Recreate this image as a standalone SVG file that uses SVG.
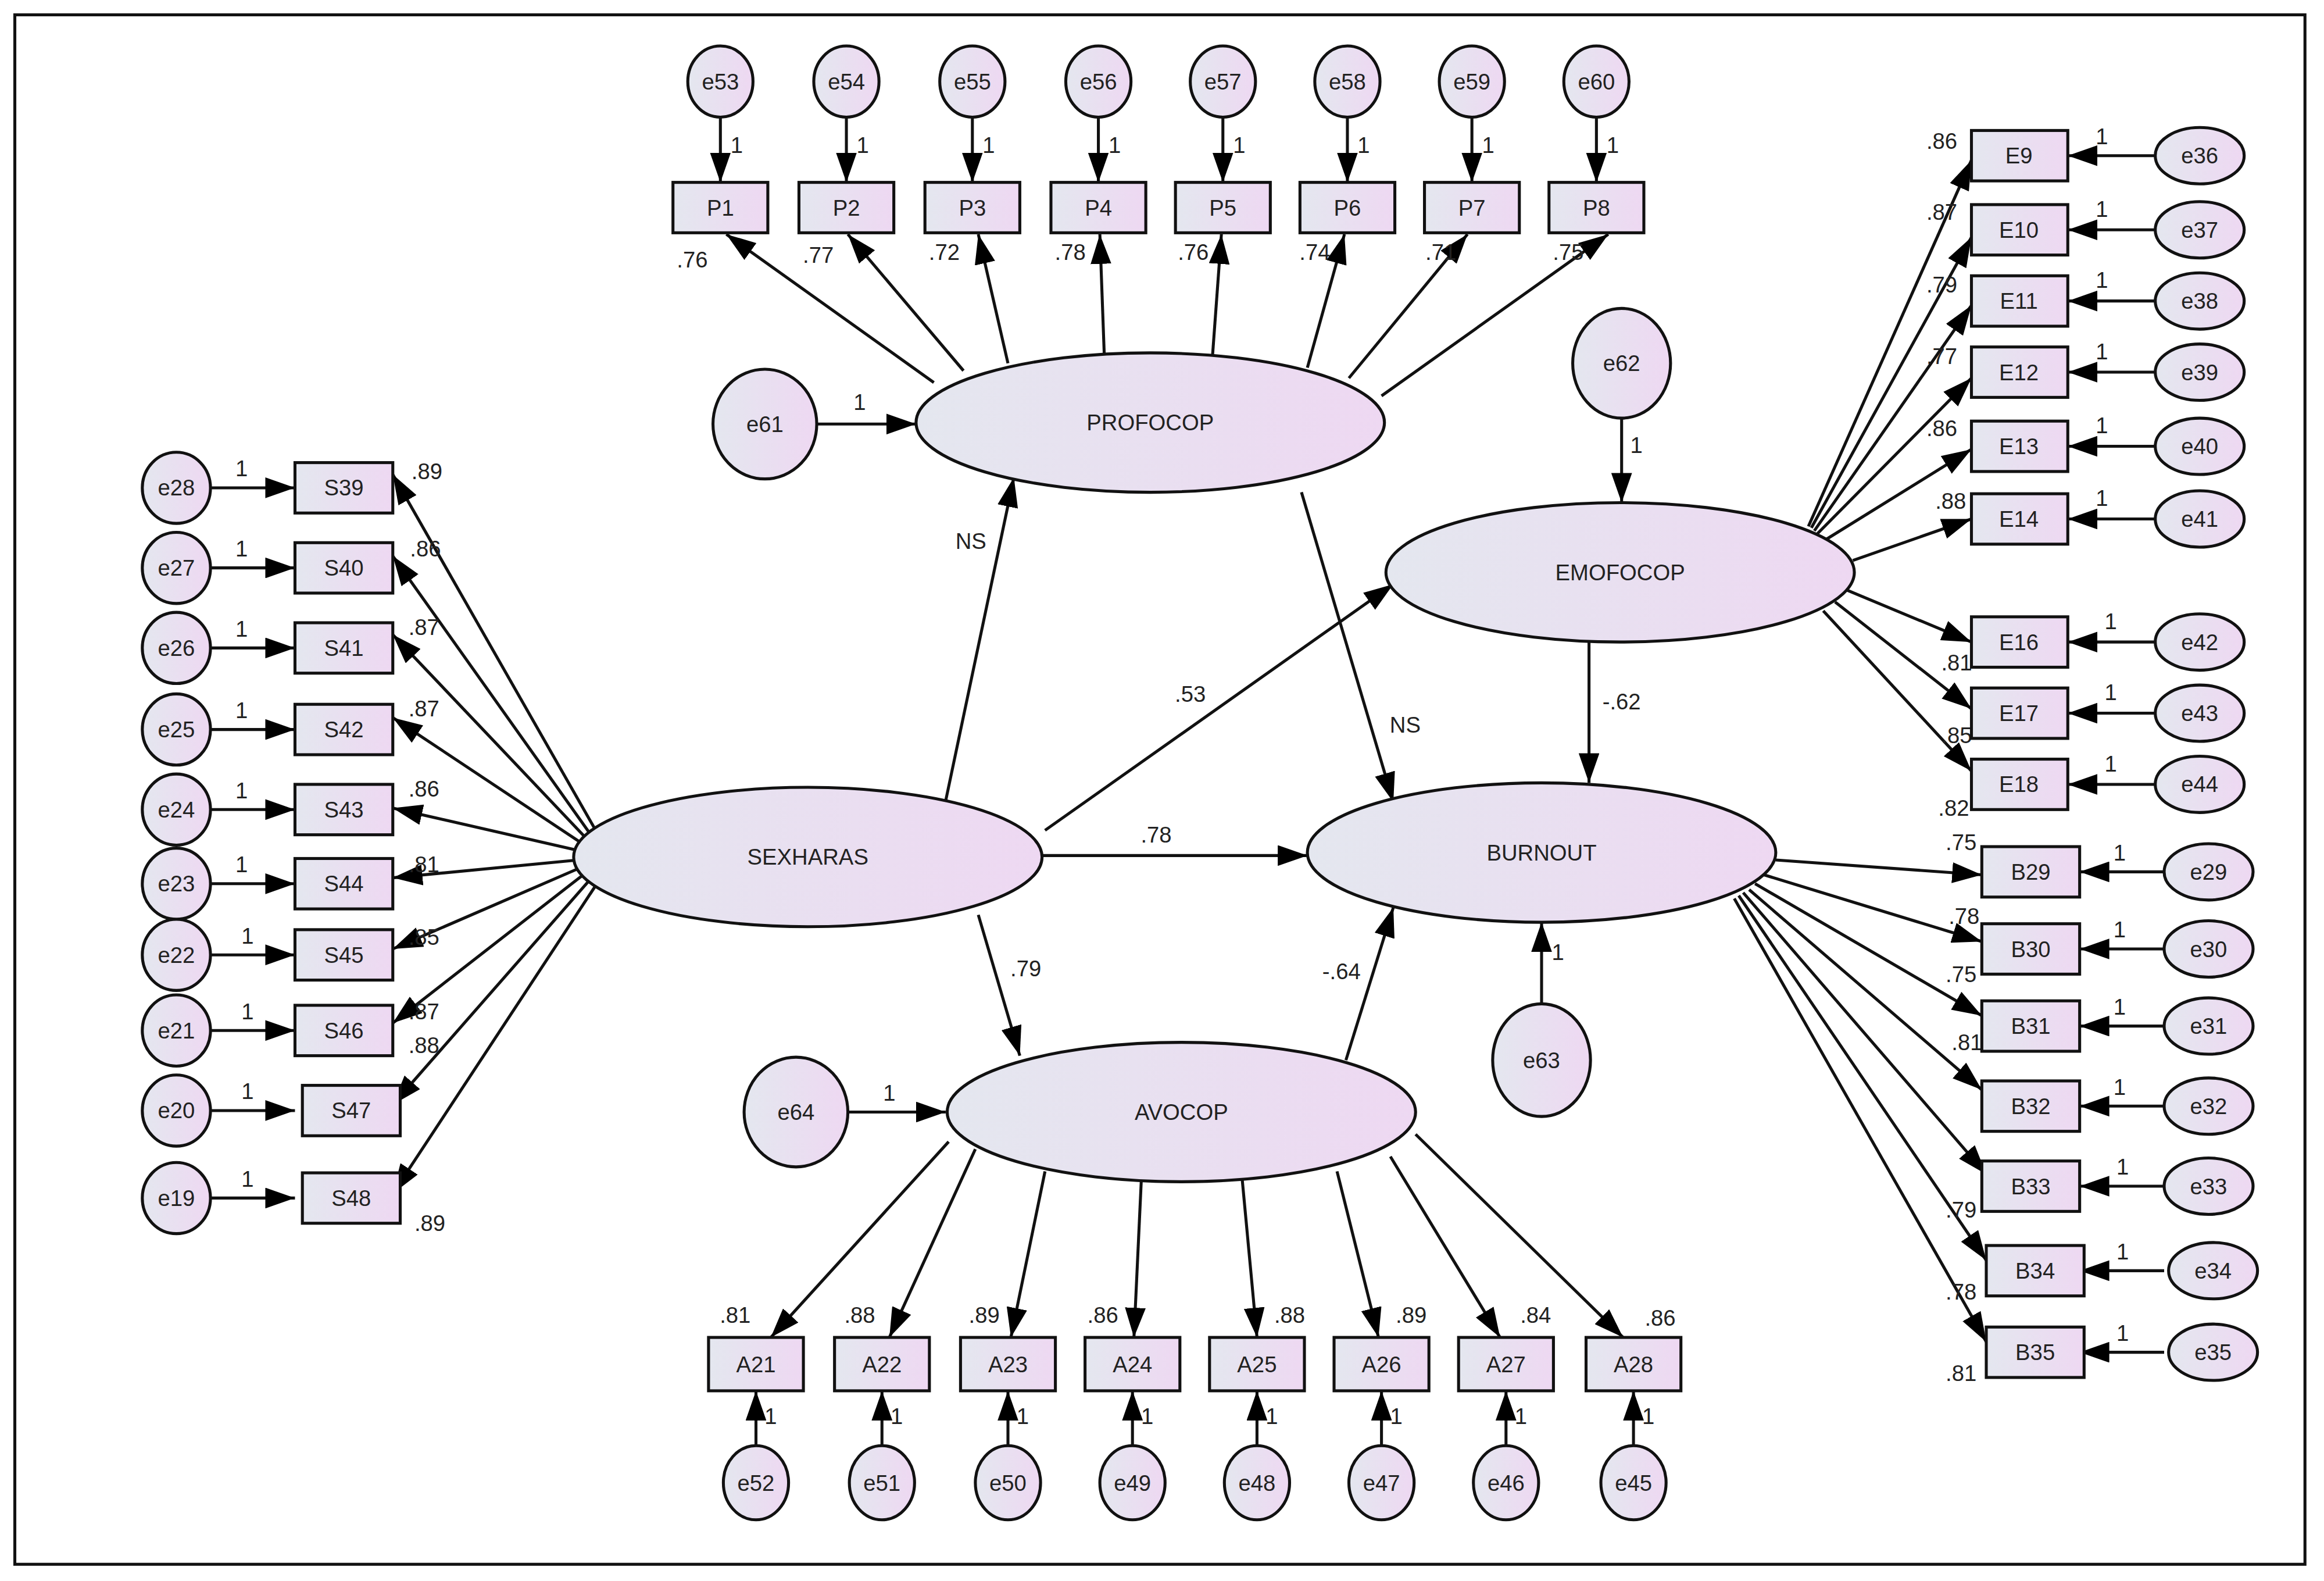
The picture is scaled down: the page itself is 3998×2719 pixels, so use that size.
<svg xmlns="http://www.w3.org/2000/svg" width="3998" height="2719" viewBox="0 0 3998 2719">
<style>
.n{fill:url(#g);stroke:#111;stroke-width:2}
.c{stroke:#111;stroke-width:2;fill:none;marker-end:url(#a)}
text{font-family:"Liberation Sans",Arial,sans-serif;font-size:15px;fill:#222}
.m{text-anchor:middle;dominant-baseline:central}
</style>
<defs>
<linearGradient id="g" x1="0" y1="0" x2="1" y2="0"><stop offset="0" stop-color="#e4e7ef"/><stop offset="1" stop-color="#eed8f2"/></linearGradient>
<marker id="a" viewBox="0 0 10 7" refX="10" refY="3.5" markerWidth="10" markerHeight="7" orient="auto"><path d="M0,0L10,3.5L0,7z" fill="#000"/></marker>
</defs>
<rect width="3998" height="2719" fill="#fff"/>
<g transform="scale(2.55)">
<rect x="10" y="10" width="1545" height="1045" fill="none" stroke="#111" stroke-width="2"/>
<g id="connectors">
<!-- P -->
<path class="c" d="M486,79V123"/><path class="c" d="M571,79V123"/><path class="c" d="M656,79V123"/><path class="c" d="M741,79V123"/>
<path class="c" d="M825,79V123"/><path class="c" d="M909,79V123"/><path class="c" d="M993,79V123"/><path class="c" d="M1077,79V123"/>
<path class="c" d="M630,258L490,158"/><path class="c" d="M650,250L572,158"/><path class="c" d="M680,245L660,158"/><path class="c" d="M745,240L742,158"/>
<path class="c" d="M818,240L824,158"/><path class="c" d="M882,248L907,158"/><path class="c" d="M910,255L990,158"/><path class="c" d="M932,267L1085,158"/>
<!-- S -->
<path class="c" d="M142,329H199"/><path class="c" d="M142,383H199"/><path class="c" d="M142,437H199"/><path class="c" d="M142,492H199"/><path class="c" d="M142,546H199"/>
<path class="c" d="M142,596H199"/><path class="c" d="M142,644H199"/><path class="c" d="M142,695H199"/><path class="c" d="M142,749H199"/><path class="c" d="M142,808H199"/>
<path class="c" d="M403,562L265,320"/><path class="c" d="M400,565L265,375"/><path class="c" d="M398,568L265,428"/><path class="c" d="M396,571L265,484"/><path class="c" d="M392,574L265,545"/>
<path class="c" d="M390,580L265,592"/><path class="c" d="M392,585L265,640"/><path class="c" d="M396,588L265,690"/><path class="c" d="M400,591L265,745"/><path class="c" d="M404,594L265,805"/>
<!-- A -->
<path class="c" d="M510,975V938"/><path class="c" d="M595,975V938"/><path class="c" d="M680,975V938"/><path class="c" d="M764,975V938"/>
<path class="c" d="M848,975V938"/><path class="c" d="M932,975V938"/><path class="c" d="M1016,975V938"/><path class="c" d="M1102,975V938"/>
<path class="c" d="M640,770L520,902"/><path class="c" d="M658,775L600,902"/><path class="c" d="M705,790L682,902"/><path class="c" d="M770,795L765,902"/>
<path class="c" d="M838,795L848,902"/><path class="c" d="M902,790L930,902"/><path class="c" d="M938,780L1012,902"/><path class="c" d="M955,765L1095,902"/>
<!-- E -->
<path class="c" d="M1454,105H1395"/><path class="c" d="M1454,155H1395"/><path class="c" d="M1454,203H1395"/><path class="c" d="M1454,251H1395"/><path class="c" d="M1454,301H1395"/>
<path class="c" d="M1454,350H1395"/><path class="c" d="M1454,433H1395"/><path class="c" d="M1454,481H1395"/><path class="c" d="M1454,529H1395"/>
<path class="c" d="M1220,355L1330,108"/><path class="c" d="M1222,356L1330,160"/><path class="c" d="M1224,358L1330,206"/><path class="c" d="M1226,360L1330,255"/><path class="c" d="M1230,365L1330,303"/>
<path class="c" d="M1250,378L1330,350"/><path class="c" d="M1246,398L1330,433"/><path class="c" d="M1238,406L1330,478"/><path class="c" d="M1230,412L1330,520"/>
<!-- B -->
<path class="c" d="M1460,588H1403"/><path class="c" d="M1460,640H1403"/><path class="c" d="M1460,692H1403"/><path class="c" d="M1460,746H1403"/>
<path class="c" d="M1460,800H1403"/><path class="c" d="M1460,857H1403"/><path class="c" d="M1460,912H1403"/>
<path class="c" d="M1198,580L1337,590"/><path class="c" d="M1190,590L1337,635"/><path class="c" d="M1184,596L1337,685"/><path class="c" d="M1180,600L1337,735"/>
<path class="c" d="M1176,602L1340,792"/><path class="c" d="M1173,604L1340,850"/><path class="c" d="M1170,606L1340,905"/>
<!-- structural -->
<path class="c" d="M551,286H618"/>
<path class="c" d="M638,540L684,322"/>
<path class="c" d="M705,560L940,394"/>
<path class="c" d="M703,577H882"/>
<path class="c" d="M660,617L688,712"/>
<path class="c" d="M878,332L940,541"/>
<path class="c" d="M1072,433V528"/>
<path class="c" d="M1094,282V339"/>
<path class="c" d="M1040,677V622"/>
<path class="c" d="M908,715L940,612"/>
<path class="c" d="M572,750H638"/>
</g>
<g id="labels">
<text x="497" y="98" class="m">1</text><text x="582" y="98" class="m">1</text><text x="667" y="98" class="m">1</text><text x="752" y="98" class="m">1</text>
<text x="836" y="98" class="m">1</text><text x="920" y="98" class="m">1</text><text x="1004" y="98" class="m">1</text><text x="1088" y="98" class="m">1</text>
<text x="467" y="175" class="m">.76</text><text x="552" y="172" class="m">.77</text><text x="637" y="170" class="m">.72</text><text x="722" y="170" class="m">.78</text>
<text x="805" y="170" class="m">.76</text><text x="887" y="170" class="m">.74</text><text x="972" y="170" class="m">.71</text><text x="1058" y="170" class="m">.75</text>
<text x="163" y="316" class="m">1</text><text x="163" y="370" class="m">1</text><text x="163" y="424" class="m">1</text><text x="163" y="479" class="m">1</text><text x="163" y="533" class="m">1</text>
<text x="163" y="583" class="m">1</text><text x="167" y="631" class="m">1</text><text x="167" y="682" class="m">1</text><text x="167" y="736" class="m">1</text><text x="167" y="795" class="m">1</text>
<text x="288" y="318" class="m">.89</text><text x="287" y="370" class="m">.86</text><text x="286" y="423" class="m">.87</text><text x="286" y="478" class="m">.87</text><text x="286" y="532" class="m">.86</text>
<text x="286" y="583" class="m">.81</text><text x="286" y="632" class="m">.85</text><text x="286" y="682" class="m">.87</text><text x="286" y="705" class="m">.88</text><text x="290" y="825" class="m">.89</text>
<text x="520" y="955" class="m">1</text><text x="605" y="955" class="m">1</text><text x="690" y="955" class="m">1</text><text x="774" y="955" class="m">1</text>
<text x="858" y="955" class="m">1</text><text x="942" y="955" class="m">1</text><text x="1026" y="955" class="m">1</text><text x="1112" y="955" class="m">1</text>
<text x="496" y="887" class="m">.81</text><text x="580" y="887" class="m">.88</text><text x="664" y="887" class="m">.89</text><text x="744" y="887" class="m">.86</text>
<text x="870" y="887" class="m">.88</text><text x="952" y="887" class="m">.89</text><text x="1036" y="887" class="m">.84</text><text x="1120" y="889" class="m">.86</text>
<text x="1418" y="92" class="m">1</text><text x="1418" y="141" class="m">1</text><text x="1418" y="189" class="m">1</text><text x="1418" y="237" class="m">1</text><text x="1418" y="287" class="m">1</text>
<text x="1418" y="336" class="m">1</text><text x="1424" y="419" class="m">1</text><text x="1424" y="467" class="m">1</text><text x="1424" y="515" class="m">1</text>
<text x="1310" y="95" class="m">.86</text><text x="1310" y="143" class="m">.87</text><text x="1310" y="192" class="m">.79</text><text x="1310" y="240" class="m">.77</text><text x="1310" y="289" class="m">.86</text>
<text x="1316" y="338" class="m">.88</text><text x="1320" y="447" class="m">.81</text><text x="1320" y="496" class="m">.85</text><text x="1318" y="545" class="m">.82</text>
<text x="1430" y="575" class="m">1</text><text x="1430" y="627" class="m">1</text><text x="1430" y="679" class="m">1</text><text x="1430" y="733" class="m">1</text>
<text x="1432" y="787" class="m">1</text><text x="1432" y="844" class="m">1</text><text x="1432" y="899" class="m">1</text>
<text x="1323" y="568" class="m">.75</text><text x="1325" y="618" class="m">.78</text><text x="1323" y="657" class="m">.75</text><text x="1327" y="703" class="m">.81</text>
<text x="1323" y="816" class="m">.79</text><text x="1323" y="871" class="m">.78</text><text x="1323" y="926" class="m">.81</text>
<text x="580" y="271" class="m">1</text>
<text x="655" y="365" class="m">NS</text>
<text x="803" y="468" class="m">.53</text>
<text x="780" y="563" class="m">.78</text>
<text x="692" y="653" class="m">.79</text>
<text x="948" y="489" class="m">NS</text>
<text x="1094" y="473" class="m">-.62</text>
<text x="1104" y="300" class="m">1</text>
<text x="1051" y="642" class="m">1</text>
<text x="905" y="655" class="m">-.64</text>
<text x="600" y="737" class="m">1</text>
</g>
<g id="PROFOCOP"><ellipse class="n" cx="776" cy="285" rx="158" ry="47"/><text x="776" y="285" class="m">PROFOCOP</text></g>
<g id="EMOFOCOP"><ellipse class="n" cx="1093" cy="386" rx="158" ry="47"/><text x="1093" y="386" class="m">EMOFOCOP</text></g>
<g id="SEXHARAS"><ellipse class="n" cx="545" cy="578" rx="158" ry="47"/><text x="545" y="578" class="m">SEXHARAS</text></g>
<g id="BURNOUT"><ellipse class="n" cx="1040" cy="575" rx="158" ry="47"/><text x="1040" y="575" class="m">BURNOUT</text></g>
<g id="AVOCOP"><ellipse class="n" cx="797" cy="750" rx="158" ry="47"/><text x="797" y="750" class="m">AVOCOP</text></g>
<g id="e61"><ellipse class="n" cx="516" cy="286" rx="35" ry="37"/><text x="516" y="286" class="m">e61</text></g>
<g id="e62"><ellipse class="n" cx="1094" cy="245" rx="33" ry="37"/><text x="1094" y="245" class="m">e62</text></g>
<g id="e63"><ellipse class="n" cx="1040" cy="715" rx="33" ry="38"/><text x="1040" y="715" class="m">e63</text></g>
<g id="e64"><ellipse class="n" cx="537" cy="750" rx="35" ry="37"/><text x="537" y="750" class="m">e64</text></g>
<g id="P1"><rect class="n" x="454" y="123" width="64" height="34"/><text x="486" y="140" class="m">P1</text></g>
<g id="P2"><rect class="n" x="539" y="123" width="64" height="34"/><text x="571" y="140" class="m">P2</text></g>
<g id="P3"><rect class="n" x="624" y="123" width="64" height="34"/><text x="656" y="140" class="m">P3</text></g>
<g id="P4"><rect class="n" x="709" y="123" width="64" height="34"/><text x="741" y="140" class="m">P4</text></g>
<g id="P5"><rect class="n" x="793" y="123" width="64" height="34"/><text x="825" y="140" class="m">P5</text></g>
<g id="P6"><rect class="n" x="877" y="123" width="64" height="34"/><text x="909" y="140" class="m">P6</text></g>
<g id="P7"><rect class="n" x="961" y="123" width="64" height="34"/><text x="993" y="140" class="m">P7</text></g>
<g id="P8"><rect class="n" x="1045" y="123" width="64" height="34"/><text x="1077" y="140" class="m">P8</text></g>
<g id="e53"><ellipse class="n" cx="486" cy="55" rx="22" ry="24"/><text x="486" y="55" class="m">e53</text></g>
<g id="e54"><ellipse class="n" cx="571" cy="55" rx="22" ry="24"/><text x="571" y="55" class="m">e54</text></g>
<g id="e55"><ellipse class="n" cx="656" cy="55" rx="22" ry="24"/><text x="656" y="55" class="m">e55</text></g>
<g id="e56"><ellipse class="n" cx="741" cy="55" rx="22" ry="24"/><text x="741" y="55" class="m">e56</text></g>
<g id="e57"><ellipse class="n" cx="825" cy="55" rx="22" ry="24"/><text x="825" y="55" class="m">e57</text></g>
<g id="e58"><ellipse class="n" cx="909" cy="55" rx="22" ry="24"/><text x="909" y="55" class="m">e58</text></g>
<g id="e59"><ellipse class="n" cx="993" cy="55" rx="22" ry="24"/><text x="993" y="55" class="m">e59</text></g>
<g id="e60"><ellipse class="n" cx="1077" cy="55" rx="22" ry="24"/><text x="1077" y="55" class="m">e60</text></g>
<g id="S39"><rect class="n" x="199" y="312" width="66" height="34"/><text x="232" y="329" class="m">S39</text></g>
<g id="S40"><rect class="n" x="199" y="366" width="66" height="34"/><text x="232" y="383" class="m">S40</text></g>
<g id="S41"><rect class="n" x="199" y="420" width="66" height="34"/><text x="232" y="437" class="m">S41</text></g>
<g id="S42"><rect class="n" x="199" y="475" width="66" height="34"/><text x="232" y="492" class="m">S42</text></g>
<g id="S43"><rect class="n" x="199" y="529" width="66" height="34"/><text x="232" y="546" class="m">S43</text></g>
<g id="S44"><rect class="n" x="199" y="579" width="66" height="34"/><text x="232" y="596" class="m">S44</text></g>
<g id="S45"><rect class="n" x="199" y="627" width="66" height="34"/><text x="232" y="644" class="m">S45</text></g>
<g id="S46"><rect class="n" x="199" y="678" width="66" height="34"/><text x="232" y="695" class="m">S46</text></g>
<g id="S47"><rect class="n" x="204" y="732" width="66" height="34"/><text x="237" y="749" class="m">S47</text></g>
<g id="S48"><rect class="n" x="204" y="791" width="66" height="34"/><text x="237" y="808" class="m">S48</text></g>
<g id="e28"><ellipse class="n" cx="119" cy="329" rx="23" ry="24"/><text x="119" y="329" class="m">e28</text></g>
<g id="e27"><ellipse class="n" cx="119" cy="383" rx="23" ry="24"/><text x="119" y="383" class="m">e27</text></g>
<g id="e26"><ellipse class="n" cx="119" cy="437" rx="23" ry="24"/><text x="119" y="437" class="m">e26</text></g>
<g id="e25"><ellipse class="n" cx="119" cy="492" rx="23" ry="24"/><text x="119" y="492" class="m">e25</text></g>
<g id="e24"><ellipse class="n" cx="119" cy="546" rx="23" ry="24"/><text x="119" y="546" class="m">e24</text></g>
<g id="e23"><ellipse class="n" cx="119" cy="596" rx="23" ry="24"/><text x="119" y="596" class="m">e23</text></g>
<g id="e22"><ellipse class="n" cx="119" cy="644" rx="23" ry="24"/><text x="119" y="644" class="m">e22</text></g>
<g id="e21"><ellipse class="n" cx="119" cy="695" rx="23" ry="24"/><text x="119" y="695" class="m">e21</text></g>
<g id="e20"><ellipse class="n" cx="119" cy="749" rx="23" ry="24"/><text x="119" y="749" class="m">e20</text></g>
<g id="e19"><ellipse class="n" cx="119" cy="808" rx="23" ry="24"/><text x="119" y="808" class="m">e19</text></g>
<g id="A21"><rect class="n" x="478" y="902" width="64" height="36"/><text x="510" y="920" class="m">A21</text></g>
<g id="A22"><rect class="n" x="563" y="902" width="64" height="36"/><text x="595" y="920" class="m">A22</text></g>
<g id="A23"><rect class="n" x="648" y="902" width="64" height="36"/><text x="680" y="920" class="m">A23</text></g>
<g id="A24"><rect class="n" x="732" y="902" width="64" height="36"/><text x="764" y="920" class="m">A24</text></g>
<g id="A25"><rect class="n" x="816" y="902" width="64" height="36"/><text x="848" y="920" class="m">A25</text></g>
<g id="A26"><rect class="n" x="900" y="902" width="64" height="36"/><text x="932" y="920" class="m">A26</text></g>
<g id="A27"><rect class="n" x="984" y="902" width="64" height="36"/><text x="1016" y="920" class="m">A27</text></g>
<g id="A28"><rect class="n" x="1070" y="902" width="64" height="36"/><text x="1102" y="920" class="m">A28</text></g>
<g id="e52"><ellipse class="n" cx="510" cy="1000" rx="22" ry="25"/><text x="510" y="1000" class="m">e52</text></g>
<g id="e51"><ellipse class="n" cx="595" cy="1000" rx="22" ry="25"/><text x="595" y="1000" class="m">e51</text></g>
<g id="e50"><ellipse class="n" cx="680" cy="1000" rx="22" ry="25"/><text x="680" y="1000" class="m">e50</text></g>
<g id="e49"><ellipse class="n" cx="764" cy="1000" rx="22" ry="25"/><text x="764" y="1000" class="m">e49</text></g>
<g id="e48"><ellipse class="n" cx="848" cy="1000" rx="22" ry="25"/><text x="848" y="1000" class="m">e48</text></g>
<g id="e47"><ellipse class="n" cx="932" cy="1000" rx="22" ry="25"/><text x="932" y="1000" class="m">e47</text></g>
<g id="e46"><ellipse class="n" cx="1016" cy="1000" rx="22" ry="25"/><text x="1016" y="1000" class="m">e46</text></g>
<g id="e45"><ellipse class="n" cx="1102" cy="1000" rx="22" ry="25"/><text x="1102" y="1000" class="m">e45</text></g>
<g id="E9"><rect class="n" x="1330" y="88" width="65" height="34"/><text x="1362" y="105" class="m">E9</text></g>
<g id="E10"><rect class="n" x="1330" y="138" width="65" height="34"/><text x="1362" y="155" class="m">E10</text></g>
<g id="E11"><rect class="n" x="1330" y="186" width="65" height="34"/><text x="1362" y="203" class="m">E11</text></g>
<g id="E12"><rect class="n" x="1330" y="234" width="65" height="34"/><text x="1362" y="251" class="m">E12</text></g>
<g id="E13"><rect class="n" x="1330" y="284" width="65" height="34"/><text x="1362" y="301" class="m">E13</text></g>
<g id="E14"><rect class="n" x="1330" y="333" width="65" height="34"/><text x="1362" y="350" class="m">E14</text></g>
<g id="E16"><rect class="n" x="1330" y="416" width="65" height="34"/><text x="1362" y="433" class="m">E16</text></g>
<g id="E17"><rect class="n" x="1330" y="464" width="65" height="34"/><text x="1362" y="481" class="m">E17</text></g>
<g id="E18"><rect class="n" x="1330" y="512" width="65" height="34"/><text x="1362" y="529" class="m">E18</text></g>
<g id="e36"><ellipse class="n" cx="1484" cy="105" rx="30" ry="19"/><text x="1484" y="105" class="m">e36</text></g>
<g id="e37"><ellipse class="n" cx="1484" cy="155" rx="30" ry="19"/><text x="1484" y="155" class="m">e37</text></g>
<g id="e38"><ellipse class="n" cx="1484" cy="203" rx="30" ry="19"/><text x="1484" y="203" class="m">e38</text></g>
<g id="e39"><ellipse class="n" cx="1484" cy="251" rx="30" ry="19"/><text x="1484" y="251" class="m">e39</text></g>
<g id="e40"><ellipse class="n" cx="1484" cy="301" rx="30" ry="19"/><text x="1484" y="301" class="m">e40</text></g>
<g id="e41"><ellipse class="n" cx="1484" cy="350" rx="30" ry="19"/><text x="1484" y="350" class="m">e41</text></g>
<g id="e42"><ellipse class="n" cx="1484" cy="433" rx="30" ry="19"/><text x="1484" y="433" class="m">e42</text></g>
<g id="e43"><ellipse class="n" cx="1484" cy="481" rx="30" ry="19"/><text x="1484" y="481" class="m">e43</text></g>
<g id="e44"><ellipse class="n" cx="1484" cy="529" rx="30" ry="19"/><text x="1484" y="529" class="m">e44</text></g>
<g id="B29"><rect class="n" x="1337" y="571" width="66" height="34"/><text x="1370" y="588" class="m">B29</text></g>
<g id="B30"><rect class="n" x="1337" y="623" width="66" height="34"/><text x="1370" y="640" class="m">B30</text></g>
<g id="B31"><rect class="n" x="1337" y="675" width="66" height="34"/><text x="1370" y="692" class="m">B31</text></g>
<g id="B32"><rect class="n" x="1337" y="729" width="66" height="34"/><text x="1370" y="746" class="m">B32</text></g>
<g id="B33"><rect class="n" x="1337" y="783" width="66" height="34"/><text x="1370" y="800" class="m">B33</text></g>
<g id="B34"><rect class="n" x="1340" y="840" width="66" height="34"/><text x="1373" y="857" class="m">B34</text></g>
<g id="B35"><rect class="n" x="1340" y="895" width="66" height="34"/><text x="1373" y="912" class="m">B35</text></g>
<g id="e29"><ellipse class="n" cx="1490" cy="588" rx="30" ry="19"/><text x="1490" y="588" class="m">e29</text></g>
<g id="e30"><ellipse class="n" cx="1490" cy="640" rx="30" ry="19"/><text x="1490" y="640" class="m">e30</text></g>
<g id="e31"><ellipse class="n" cx="1490" cy="692" rx="30" ry="19"/><text x="1490" y="692" class="m">e31</text></g>
<g id="e32"><ellipse class="n" cx="1490" cy="746" rx="30" ry="19"/><text x="1490" y="746" class="m">e32</text></g>
<g id="e33"><ellipse class="n" cx="1490" cy="800" rx="30" ry="19"/><text x="1490" y="800" class="m">e33</text></g>
<g id="e34"><ellipse class="n" cx="1493" cy="857" rx="30" ry="19"/><text x="1493" y="857" class="m">e34</text></g>
<g id="e35"><ellipse class="n" cx="1493" cy="912" rx="30" ry="19"/><text x="1493" y="912" class="m">e35</text></g>
</g>
</svg>
